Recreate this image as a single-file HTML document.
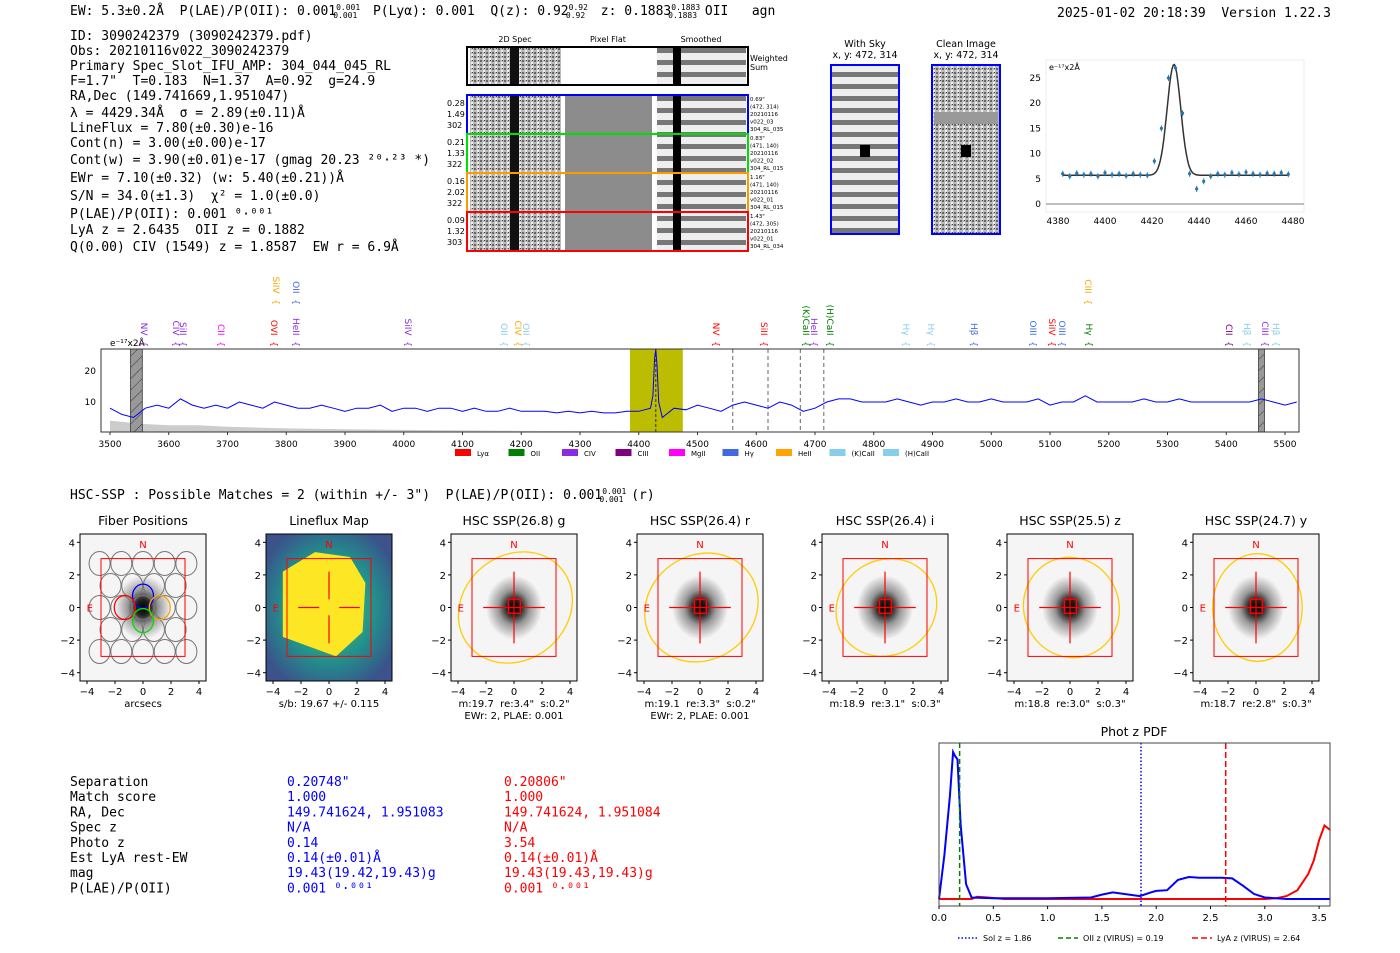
<!DOCTYPE html>
<html><head><meta charset="utf-8"><style>
body{margin:0;background:#fff;width:1400px;height:953px;overflow:hidden}
svg{display:block}
text{white-space:pre}
.m{font-family:"DejaVu Sans Mono","Liberation Mono",monospace;font-size:13px;fill:#000}
.s{font-family:"DejaVu Sans","Liberation Sans",sans-serif}
</style></head><body>
<svg id="fig" width="1400" height="953" viewBox="0 0 1400 953" xmlns="http://www.w3.org/2000/svg" xml:space="preserve">
<defs>
<pattern id="hatch" width="8" height="8" patternUnits="userSpaceOnUse" patternTransform="rotate(45)"><rect width="8" height="8" fill="#999"/><line x1="0" y1="0" x2="0" y2="8" stroke="#333" stroke-width="1"/></pattern>
<radialGradient id="gal" cx="50%" cy="50%" r="50%"><stop offset="0" stop-color="#000"/><stop offset="0.25" stop-color="#222"/><stop offset="0.55" stop-color="#999"/><stop offset="1" stop-color="#f4f4f4"/></radialGradient>
<radialGradient id="vir" cx="50%" cy="50%" r="60%"><stop offset="0" stop-color="#5ec962"/><stop offset="0.6" stop-color="#21918c"/><stop offset="1" stop-color="#3b528b"/></radialGradient>
<pattern id="noise" width="6" height="4" patternUnits="userSpaceOnUse"><rect width="6" height="4" fill="#bbb"/><rect x="0" y="0" width="2" height="2" fill="#666"/><rect x="3" y="2" width="2" height="2" fill="#eee"/><rect x="4" y="0" width="1" height="1" fill="#444"/></pattern>
<pattern id="stripes" width="10" height="12" patternUnits="userSpaceOnUse"><rect width="10" height="12" fill="#eee"/><rect y="0" width="10" height="5" fill="#777"/></pattern>
</defs>

<g>
<text class="m" x="70" y="15">EW: 5.3±0.2Å  P(LAE)/P(OII): 0.001<tspan font-size="8" dy="-5">0.001</tspan><tspan font-size="8" dx="-27" dy="8">0.001</tspan><tspan dy="-3">  P(Lyα): 0.001  Q(z): 0.92</tspan><tspan font-size="8" dy="-5">0.92</tspan><tspan font-size="8" dx="-22" dy="8">0.92</tspan><tspan dy="-3">  z: 0.1883</tspan><tspan font-size="8" dy="-5">0.1883</tspan><tspan font-size="8" dx="-32" dy="8">0.1883</tspan><tspan dy="-3"> OII   agn</tspan></text>
<text class="m" x="1057" y="17">2025-01-02 20:18:39  Version 1.22.3</text>
</g>

<g id="info"></g>

<g id="spec2d"></g>
<g id="fit"></g>
<g id="spec"></g>
<text class="m" x="70" y="499">HSC-SSP : Possible Matches = 2 (within +/- 3")  P(LAE)/P(OII): 0.001<tspan font-size="8" dy="-5">0.001</tspan><tspan font-size="8" dx="-27" dy="8">0.001</tspan><tspan dy="-3"> (r)</tspan></text>
<g id="cutouts"></g>
<g id="table"></g>
<g id="pdf"></g>
</svg>
<script>
// ---------- data ----------
const infoLines=["ID: 3090242379 (3090242379.pdf)","Obs: 20210116v022_3090242379","Primary Spec_Slot_IFU_AMP: 304_044_045_RL",'F=1.7"  T=0.183  N=1.37  A=0.92  g=24.9',"RA,Dec (149.741669,1.951047)","λ = 4429.34Å  σ = 2.89(±0.11)Å","LineFlux = 7.80(±0.30)e-16","Cont(n) = 3.00(±0.00)e-17","Cont(w) = 3.90(±0.01)e-17 (gmag 20.23 ²⁰·²³ *)","EWr = 7.10(±0.32) (w: 5.40(±0.21))Å","S/N = 34.0(±1.3)  χ² = 1.0(±0.0)","P(LAE)/P(OII): 0.001 ⁰·⁰⁰¹","LyA z = 2.6435  OII z = 0.1882","Q(0.00) CIV (1549) z = 1.8587  EW r = 6.9Å"];
const infoY=[40,55,70,85,100,117,132,147,164,182,200,218,234,251];

// line fit
const fitFlux=[6,5.5,6.1,5.8,6,5.5,6.2,5.8,6,5.6,6,5.8,5.7,8.5,15,25,27,18,6,3,4.5,5.5,6,5.8,6.2,5.9,6.3,6,5.8,6.1,6,6.2,5.9];
const fitWlStart=4382, fitWlStep=3;
const fitXTicks=[4380,4400,4420,4440,4460,4480];
const fitYTicks=[0,5,10,15,20,25];

// full spectrum
const specFlux=[8,6,5,8,9,8,11,9,8,9,8,10,9,8,10,9,8,8,9,8,7,8,8,9,7,8,8,7,8,8,7,8,7,7,8,7,7,7,6.5,7,6.5,7,6.5,6.5,7,7,8,5,8,7.5,9,8,7,9,10,9,8,10,9,7,8,10,11,11,10,10,10,11,10,9,10,10,11,10,10,11,10,10,10,11,9,10,10,12,10,10,10,10,11,10,10,11,10,10,10,10,10,10,11,10,9,10];
const specWlStart=3500, specWlStep=20;
const peakWl=[4424,4427,4429,4431,4434];
const peakFlux=[12,24,27,22,10];
const skyWl=[3500,3550,3600,3650,3700,3800,3900,4000,4200,4500,5000,5500];
const skyFlux=[4,3,2.5,2.5,2,1.5,1.2,1,0.7,0.5,0.3,0.3];
const specXTicks=[3500,3600,3700,3800,3900,4000,4100,4200,4300,4400,4500,4600,4700,4800,4900,5000,5100,5200,5300,5400,5500];
const specYTicks=[10,20];
const dashedWl=[4560,4620,4675,4715];

// phot z pdf
const pdfZ=[0,0.05,0.1,0.13,0.15,0.17,0.2,0.25,0.3,0.5,1.0,1.4,1.5,1.6,1.7,1.85,1.95,2.0,2.1,2.2,2.3,2.4,2.5,2.6,2.7,2.8,2.9,3.0,3.2,3.6];
const pdfBlue=[0,0.3,0.7,1.0,0.97,0.95,0.5,0.1,0.01,0.005,0.005,0.01,0.03,0.045,0.035,0.02,0.045,0.055,0.06,0.13,0.15,0.145,0.145,0.145,0.14,0.09,0.035,0.01,0,0];
const redZ=[0,0.3,0.35,0.45,0.6,3.0,3.1,3.2,3.3,3.4,3.45,3.5,3.55,3.6];
const pdfRed=[0,0,0.015,0.01,0,0,0.005,0.02,0.06,0.17,0.26,0.4,0.5,0.47];
const pdfXTicks=[0,0.5,1.0,1.5,2.0,2.5,3.0,3.5];

// table
const tabLabels=["Separation","Match score","RA, Dec","Spec z","Photo z","Est LyA rest-EW","mag","P(LAE)/P(OII)"];
const tabBlue=['0.20748"',"1.000","149.741624, 1.951083","N/A","0.14","0.14(±0.01)Å","19.43(19.42,19.43)g","0.001 ⁰·⁰⁰¹"];
const tabRed=['0.20806"',"1.000","149.741624, 1.951084","N/A","3.54","0.14(±0.01)Å","19.43(19.43,19.43)g","0.001 ⁰·⁰⁰¹"];

// cutouts
const cutTitles=["Fiber Positions","Lineflux Map","HSC SSP(26.8) g","HSC SSP(26.4) r","HSC SSP(26.4) i","HSC SSP(25.5) z","HSC SSP(24.7) y"];
const cutSub1=["arcsecs","s/b: 19.67 +/- 0.115",'m:19.7  re:3.4"  s:0.2"','m:19.1  re:3.3"  s:0.2"','m:18.9  re:3.1"  s:0.3"','m:18.8  re:3.0"  s:0.3"','m:18.7  re:2.8"  s:0.3"'];
const cutSub2=["","","EWr: 2, PLAE: 0.001","EWr: 2, PLAE: 0.001","","",""];
const ellRx=[0,0,4.3,4.2,3.7,3.4,3.2], ellRy=[0,0,3.2,3.2,2.9,3.1,3.3], ellRot=[0,0,-40,-35,-35,-20,0];

// ---------- helpers ----------
const NS="http://www.w3.org/2000/svg";
function el(tag,attrs,parent,text){const e=document.createElementNS(NS,tag);for(const k in attrs)e.setAttribute(k,attrs[k]);if(text!==undefined)e.textContent=text;parent.appendChild(e);return e;}
const $=id=>document.getElementById(id);

// info block
const info=$("info");
infoLines.forEach((t,i)=>{const e=el("text",{class:"m",x:70,y:infoY[i]},info,t);

});

// 2D spec panel
(function(){const g=$("spec2d");
[["2D Spec",515],["Pixel Flat",608],["Smoothed",701]].forEach(([t,x])=>{const e=el("text",{x:x,y:42,"font-size":8,"text-anchor":"middle",class:"s"},g,t);

});
function row(y,h,col,flat){
 el("rect",{x:470,y:y,width:91,height:h,fill:"url(#noise)"},g);
 el("rect",{x:510,y:y,width:9,height:h,fill:"#111"},g);
 if(flat)el("rect",{x:565,y:y,width:87,height:h,fill:"#8c8c8c"},g);
 el("rect",{x:657,y:y,width:89,height:h,fill:"url(#stripes)"},g);
 el("rect",{x:673,y:y,width:8,height:h,fill:"#000"},g);
 const b=el("rect",{x:467,y:y-1,width:281,height:h+2,fill:"none",stroke:col,"stroke-width":2},g);
 
 
}
row(48,36,"#000",false);
el("text",{x:750,y:61,"font-size":8,class:"s"},g,"Weighted");el("text",{x:750,y:70,"font-size":8,class:"s"},g,"Sum");
const rows=[[96,"#0000ff",["0.28","1.49","302"],["0.69\"","(472, 314)","20210116","v022_03","304_RL_035"]],[135,"#00e000",["0.21","1.33","322"],["0.83\"","(471, 140)","20210116","v022_02","304_RL_015"]],[174,"#ff9900",["0.16","2.02","322"],["1.16\"","(471, 140)","20210116","v022_01","304_RL_015"]],[213,"#ff0000",["0.09","1.32","303"],["1.43\"","(472, 305)","20210116","v022_01","304_RL_034"]]];
rows.forEach(([y,c,l,r])=>{row(y,37,c,true);l.forEach((t,i)=>el("text",{x:447,y:y+10+i*11,"font-size":8,class:"s"},g,t));r.forEach((t,i)=>el("text",{x:750,y:y+5+i*7.5,"font-size":5.5,class:"s"},g,t));});
// sky / clean
[["With Sky",865,"url(#stripes)"],["Clean Image",966,"url(#noise)"]].forEach(([t,cx,f])=>{
 el("text",{x:cx,y:47,"font-size":9.5,"text-anchor":"middle",class:"s"},g,t);
 el("text",{x:cx,y:58,"font-size":9.5,"text-anchor":"middle",class:"s"},g,"x, y: 472, 314");
 el("rect",{x:cx-34,y:65,width:68,height:169,fill:f},g);
 el("rect",{x:cx-5,y:145,width:10,height:12,fill:"#000"},g);
 const b=el("rect",{x:cx-34,y:65,width:68,height:169,fill:"none",stroke:"#0000ff","stroke-width":2},g);
 
 
});
el("rect",{x:934,y:112,width:64,height:12,fill:"#999"},g);
})();

// line fit plot
(function(){const g=$("fit");const x0=1046,x1=1304,yT=60,yB=212;
const X=w=>1058+(w-4380)*2.35, Y=v=>204-v*5.04;
el("rect",{x:x0,y:yT,width:x1-x0,height:yB-yT,fill:"#fff",stroke:"#eee"},g);
el("line",{x1:x0,x2:x1,y1:Y(0),y2:Y(0),stroke:"#555","stroke-width":0.8},g);
fitXTicks.forEach(t=>el("text",{x:X(t),y:224,"font-size":9,"text-anchor":"middle",class:"s"},g,t));
fitYTicks.forEach(t=>el("text",{x:x0-5,y:Y(t)+3,"font-size":9,"text-anchor":"end",class:"s"},g,t));
el("text",{x:x0+3,y:70,"font-size":8,class:"s"},g,"e⁻¹⁷x2Å");
let d="";for(let w=4382;w<=4478;w+=0.5){const v=5.7+22*Math.exp(-0.5*((w-4429.34)/2.89)**2);d+=(d?"L":"M")+X(w).toFixed(1)+","+Y(v).toFixed(1);}
const m=el("path",{d:d,fill:"none",stroke:"#333","stroke-width":1.5},g);


fitFlux.forEach((v,i)=>{const w=fitWlStart+i*fitWlStep;
 el("line",{x1:X(w),x2:X(w),y1:Y(v)-3,y2:Y(v)+3,stroke:"#1f77b4","stroke-width":1},g);
 const c=el("circle",{cx:X(w),cy:Y(v),r:1.6,fill:"#1f77b4"},g);
 
 });
})();

// full spectrum
(function(){const g=$("spec");const x0=101,x1=1299,yT=349,yB=432;
const X=w=>110+(w-3500)*0.5875, Y=v=>433-v*3.1;
el("rect",{x:x0,y:yT,width:x1-x0,height:yB-yT,fill:"#fff"},g);
let sd="M"+X(skyWl[0])+","+yB;skyWl.forEach((w,i)=>sd+="L"+X(w)+","+Y(skyFlux[i]));sd+="L"+X(skyWl[skyWl.length-1])+","+yB+"Z";
const sk=el("path",{d:sd,fill:"#ccc"},g);


const band=el("rect",{x:X(4385),y:yT,width:X(4475)-X(4385),height:yB-yT,fill:"#bcbc00"},g);


[[3535,3555],[5455,5465]].forEach(([a,b])=>{const r=el("rect",{x:X(a),y:yT,width:X(b)-X(a),height:yB-yT,fill:"url(#hatch)",stroke:"#333","stroke-width":0.8},g);

});
dashedWl.forEach(w=>{const l=el("line",{x1:X(w),x2:X(w),y1:yT,y2:yB,stroke:"#666","stroke-dasharray":"4,3"},g);

});
el("line",{x1:X(4429),x2:X(4429),y1:yT,y2:yB,stroke:"#333","stroke-dasharray":"3,2"},g);
let pts=specFlux.map((v,i)=>[specWlStart+i*specWlStep,v]).filter(p=>p[0]<4422||p[0]>4436);
peakWl.forEach((w,i)=>pts.push([w,peakFlux[i]]));pts.sort((a,b)=>a[0]-b[0]);
let d="";pts.forEach(p=>d+=(d?"L":"M")+X(p[0]).toFixed(1)+","+Y(p[1]).toFixed(1));
const ln=el("path",{d:d,fill:"none",stroke:"#0000ff","stroke-width":1},g);


el("rect",{x:x0,y:yT,width:x1-x0,height:yB-yT,fill:"none",stroke:"#333","stroke-width":1},g);
specXTicks.forEach(t=>{el("line",{x1:X(t),x2:X(t),y1:yB,y2:yB+3,stroke:"#333"},g);el("text",{x:X(t),y:447,"font-size":9,"text-anchor":"middle",class:"s"},g,t);});
specYTicks.forEach(t=>el("text",{x:x0-5,y:Y(t)+3,"font-size":9,"text-anchor":"end",class:"s"},g,t));
el("text",{x:110,y:346,"font-size":9,class:"s"},g,"e⁻¹⁷x2Å");
const labs=[["NV",138,"#8a2be2",0],["CIV",170,"#8a2be2",0],["SiII",177,"#8a2be2",0],["CII",215,"#ff00ff",0],["OVI",268,"#ff0000",0],["HeII",290,"#8a2be2",0],["SiIV",402,"#8a2be2",0],["OII",498,"#87ceeb",0],["CIV",512,"#ffa500",0],["OII",520,"#87ceeb",0],["NV",710,"#ff0000",0],["SiII",758,"#ff0000",0],["(K)CaII",800,"#008000",0],["HeII",808,"#8a2be2",0],["(H)CaII",824,"#008000",0],["Hγ",900,"#87ceeb",0],["Hγ",925,"#87ceeb",0],["Hβ",968,"#4169e1",0],["OIII",1027,"#4169e1",0],["SiIV",1046,"#ff0000",0],["OIII",1056,"#4169e1",0],["Hγ",1083,"#008000",0],["CII",1223,"#800080",0],["Hβ",1241,"#87ceeb",0],["CIII",1259,"#8a2be2",0],["Hβ",1270,"#87ceeb",0],["SiIV",270,"#ffa500",1],["OII",290,"#4169e1",1],["CIII",1082,"#ffa500",1]];
labs.forEach(([t,x,c,up])=>{const yb=up?305:347;const e=el("text",{x:0,y:0,"font-size":9,fill:c,transform:`translate(${x+3},${yb}) rotate(90)`,"text-anchor":"end",class:"s"},g,t+"  {");

});
const leg=[["Lyα","#ff0000"],["OII","#008000"],["CIV","#8a2be2"],["CIII","#800080"],["MgII","#ff00ff"],["Hγ","#4169e1"],["HeII","#ffa500"],["(K)CaII","#87ceeb"],["(H)CaII","#87ceeb"]];
leg.forEach(([t,c],i)=>{const x=455+i*53.5;const r=el("rect",{x:x,y:449,width:16,height:7,fill:c},g);


el("text",{x:x+22,y:456,"font-size":7,class:"s"},g,t);});
})();

// cutouts
(function(){const g=$("cutouts");const centers=[143,329,514,700,885,1070,1256];
centers.forEach((cx,k)=>{const L=cx-63,T=534,W=126,H=147;const X=v=>cx+v*14,Y=v=>T+H/2-v*16.3;
const pg=el("g",{},g);


el("text",{x:cx,y:525,"font-size":12.5,"text-anchor":"middle",class:"s"},pg,cutTitles[k]);
if(k===1){el("rect",{x:L,y:T,width:W,height:H,fill:"url(#vir)"},pg);
 el("polygon",{points:`${X(-3.3)},${Y(2.2)} ${X(-1)},${Y(3.4)} ${X(1.5)},${Y(3.1)} ${X(2.6)},${Y(1.5)} ${X(2.4)},${Y(-1.5)} ${X(0.5)},${Y(-3)} ${X(-3.3)},${Y(-1.8)}`,fill:"#fde725"},pg);}
else{el("rect",{x:L,y:T,width:W,height:H,fill:"#f5f5f5"},pg);
 el("ellipse",{cx:X(0),cy:Y(0),rx:28,ry:32,fill:"url(#gal)"},pg);}
if(k===0){for(let r=-3;r<=3;r++)for(let c=-2;c<=2;c++){const xx=c*1.55+(r%2?0.78:0),yy=r*1.35;if(Math.abs(xx)>3.3||Math.abs(yy)>4)continue;el("ellipse",{cx:X(xx),cy:Y(yy),rx:10.5,ry:12,fill:"none",stroke:"#777","stroke-width":1},pg);}
 [["#0000ff",0,0.7],["#ff0000",-1.3,0],["#ffa500",1.2,0],["#00dd00",0,-0.8]].forEach(([c,a,b])=>el("ellipse",{cx:X(a),cy:Y(b),rx:10.5,ry:12,fill:"none",stroke:c,"stroke-width":1.3},pg));}
if(ellRx[k]){const e=el("ellipse",{cx:X(0.1),cy:Y(0),rx:ellRx[k]*14,ry:ellRy[k]*16.3,fill:"none",stroke:"#ffcc00","stroke-width":1.3,transform:`rotate(${ellRot[k]} ${X(0.1)} ${Y(0)})`},pg);
 
 }
el("rect",{x:X(-3),y:Y(3),width:X(3)-X(-3),height:Y(-3)-Y(3),fill:"none",stroke:"#ff0000","stroke-width":1},pg);
if(k>0){el("line",{x1:X(-2.2),x2:X(2.2),y1:Y(0),y2:Y(0),stroke:"#ff0000","stroke-width":1.2},pg);el("line",{x1:X(0),x2:X(0),y1:Y(2.2),y2:Y(-2.2),stroke:"#ff0000","stroke-width":1.2},pg);}
if(k===1)el("rect",{x:X(-0.7),y:Y(0.5),width:20,height:16,fill:"#fde725"},pg);
if(k>1)el("rect",{x:X(-0.4),y:Y(0.5),width:12,height:14,fill:"none",stroke:"#ff0000","stroke-width":1.5},pg);
el("text",{x:X(0),y:Y(3.9)+4,"font-size":10,fill:"#ff0000","text-anchor":"middle",class:"s"},pg,"N");
el("text",{x:X(-3.8),y:Y(0)+4,"font-size":10,fill:"#ff0000","text-anchor":"middle",class:"s"},pg,"E");
el("rect",{x:L,y:T,width:W,height:H,fill:"none",stroke:"#000","stroke-width":1},pg);
[-4,-2,0,2,4].forEach(t=>{el("text",{x:X(t),y:695,"font-size":10,"text-anchor":"middle",class:"s"},pg,t<0?"−"+(-t):t);el("text",{x:L-5,y:Y(t)+4,"font-size":10,"text-anchor":"end",class:"s"},pg,t<0?"−"+(-t):t);
 el("line",{x1:X(t),x2:X(t),y1:T+H,y2:T+H+3,stroke:"#000"},pg);el("line",{x1:L-3,x2:L,y1:Y(t),y2:Y(t),stroke:"#000"},pg);});
el("text",{x:cx,y:707,"font-size":10,"text-anchor":"middle",class:"s"},pg,cutSub1[k]);
if(cutSub2[k])el("text",{x:cx,y:719,"font-size":10,"text-anchor":"middle",class:"s"},pg,cutSub2[k]);
});})();

// table
(function(){const g=$("table");tabLabels.forEach((t,i)=>{const y=786+i*15.2;
const a=el("text",{class:"m",x:70,y:y},g,t);
const b=el("text",{class:"m",x:287,y:y,style:"fill:#0000ff"},g,tabBlue[i]);
const c=el("text",{class:"m",x:504,y:y,style:"fill:#ff0000"},g,tabRed[i]);});})();

// phot z pdf
(function(){const g=$("pdf");const x0=939,x1=1330,yT=743,yB=906;
const X=z=>939+z*108.6, Y=v=>899-v*147;
el("text",{x:1134,y:736,"font-size":12.5,"text-anchor":"middle",class:"s"},g,"Phot z PDF");
function line(zs,vs,c,name){let d="";zs.forEach((z,i)=>d+=(d?"L":"M")+X(z).toFixed(1)+","+Y(vs[i]).toFixed(1));const p=el("path",{d:d,fill:"none",stroke:c,"stroke-width":2},g);

}
line(redZ,pdfRed,"#ff0000","lya-pdf-curve");
line(pdfZ,pdfBlue,"#0000ff","photz-pdf-curve");
el("line",{x1:X(1.86),x2:X(1.86),y1:yT,y2:yB,stroke:"#0000ff","stroke-width":1.5,"stroke-dasharray":"1.5,2"},g);
el("line",{x1:X(0.19),x2:X(0.19),y1:yT,y2:yB,stroke:"#008000","stroke-width":1.5,"stroke-dasharray":"5,3"},g);
el("line",{x1:X(2.64),x2:X(2.64),y1:yT,y2:yB,stroke:"#ff0000","stroke-width":1.5,"stroke-dasharray":"6,3"},g);
el("rect",{x:x0,y:yT,width:x1-x0,height:yB-yT,fill:"none",stroke:"#444","stroke-width":1},g);
pdfXTicks.forEach(t=>{el("line",{x1:X(t),x2:X(t),y1:yB,y2:yB+3,stroke:"#000"},g);el("text",{x:X(t),y:921,"font-size":10,"text-anchor":"middle",class:"s"},g,t.toFixed(1));});
[["Sol z = 1.86","#0000ff","1.5,2",958],["OII z (VIRUS) = 0.19","#008000","5,3",1058],["LyA z (VIRUS) = 2.64","#ff0000","6,3",1192]].forEach(([t,c,da,x])=>{
 const l=el("line",{x1:x,x2:x+20,y1:938,y2:938,stroke:c,"stroke-width":1.5,"stroke-dasharray":da},g);
 
 
 el("text",{x:x+25,y:941,"font-size":8,class:"s"},g,t);});
})();
</script>
</body></html>
